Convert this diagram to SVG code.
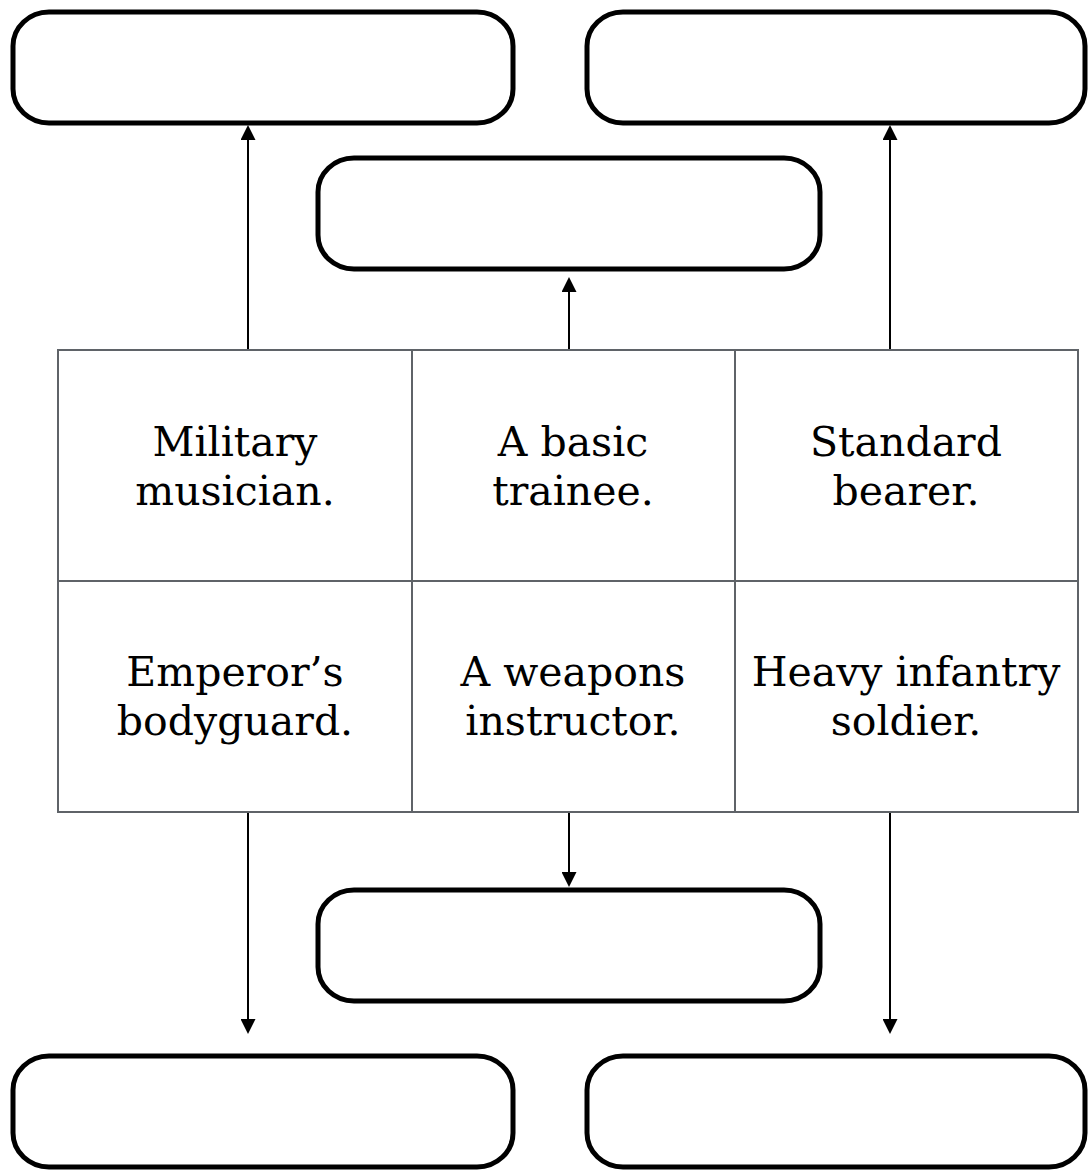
<svg xmlns="http://www.w3.org/2000/svg" width="1089" height="1175" viewBox="0 0 1089 1175">
<defs>
<style>
.box{fill:#ffffff;stroke:#000000;stroke-width:5}
.grid{fill:#ffffff;stroke:#5f6368;stroke-width:2}
.conn{fill:none;stroke:#000000;stroke-width:2}
.lbl{font-family:"DejaVu Serif","Liberation Serif",serif;font-size:41px;fill:#000000;text-anchor:middle}
</style>
<marker id="ah" viewBox="0 0 15 15" refX="5" refY="7.5" markerWidth="15" markerHeight="15" markerUnits="userSpaceOnUse" orient="auto">
<path d="M0,0 L15,7.5 L0,15 z" fill="#000000"/>
</marker>
</defs>
<rect width="1089" height="1175" fill="#ffffff"/>
<g id="box-top-left"><rect class="box" x="13" y="12" width="500" height="111" rx="36" ry="34"/></g>
<g id="box-top-right"><rect class="box" x="587" y="12" width="498" height="111" rx="36" ry="34"/></g>
<g id="box-top-middle"><rect class="box" x="318" y="158" width="502" height="111" rx="36" ry="34"/></g>
<g id="box-bottom-middle"><rect class="box" x="318" y="890" width="502" height="111" rx="36" ry="34"/></g>
<g id="box-bottom-left"><rect class="box" x="13" y="1056" width="500" height="111" rx="36" ry="34"/></g>
<g id="box-bottom-right"><rect class="box" x="587" y="1056" width="498" height="111" rx="36" ry="34"/></g>
<g id="table">
<rect class="grid" x="58" y="350" width="1020" height="462"/>
<line class="grid" x1="412" y1="350" x2="412" y2="812"/>
<line class="grid" x1="735" y1="350" x2="735" y2="812"/>
<line class="grid" x1="58" y1="581" x2="1078" y2="581"/>
</g>
<g id="cell-musician"><text class="lbl" x="235" y="456">Military</text><text class="lbl" x="235" y="505">musician.</text></g>
<g id="cell-trainee"><text class="lbl" x="573" y="456">A basic</text><text class="lbl" x="573" y="505">trainee.</text></g>
<g id="cell-bearer"><text class="lbl" x="906" y="456">Standard</text><text class="lbl" x="906" y="505">bearer.</text></g>
<g id="cell-bodyguard"><text class="lbl" x="235" y="686">Emperor’s</text><text class="lbl" x="235" y="735">bodyguard.</text></g>
<g id="cell-instructor"><text class="lbl" x="573" y="686">A weapons</text><text class="lbl" x="573" y="735">instructor.</text></g>
<g id="cell-infantry"><text class="lbl" x="906" y="686">Heavy infantry</text><text class="lbl" x="906" y="735">soldier.</text></g>
<g id="connectors">
<line class="conn" x1="248" y1="349" x2="248" y2="135" marker-end="url(#ah)"/>
<line class="conn" x1="569" y1="349" x2="569" y2="287" marker-end="url(#ah)"/>
<line class="conn" x1="890" y1="349" x2="890" y2="135" marker-end="url(#ah)"/>
<line class="conn" x1="248" y1="813" x2="248" y2="1024" marker-end="url(#ah)"/>
<line class="conn" x1="569" y1="813" x2="569" y2="877" marker-end="url(#ah)"/>
<line class="conn" x1="890" y1="813" x2="890" y2="1024" marker-end="url(#ah)"/>
</g>
</svg>
